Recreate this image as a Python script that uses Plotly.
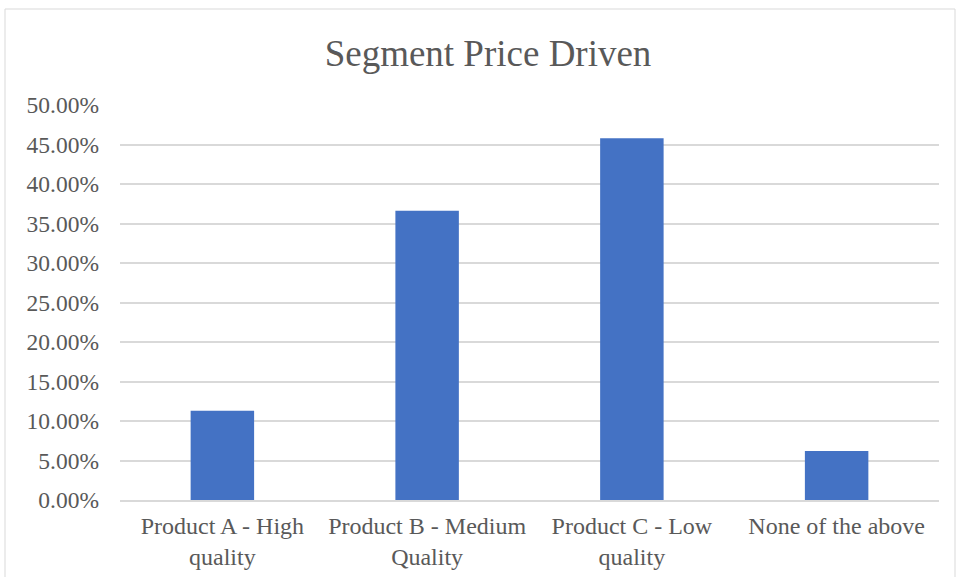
import plotly.graph_objects as go

categories = [
    "Product A - High<br>quality",
    "Product B - Medium<br>Quality",
    "Product C - Low<br>quality",
    "None of the above",
]
shares = [0.113, 0.366, 0.458, 0.062]

y_ticks = [i * 0.05 for i in range(11)]

FONT = "Liberation Serif, Times New Roman, serif"
TEXT = "#595959"

# plot area in pixels: x 120..939, y 105..500
PLOT_W, PLOT_H = 819, 395

fig = go.Figure(
    go.Bar(
        x=categories,
        y=shares,
        marker=dict(color="#4472C4", line=dict(width=0)),
        width=0.31,
        hoverinfo="x+y",
    )
)

fig.update_layout(
    width=957,
    height=577,
    margin=dict(l=120, r=18, t=105, b=77),
    paper_bgcolor="white",
    plot_bgcolor="white",
    showlegend=False,
    title=dict(
        text="Segment Price Driven",
        x=488 / 957,
        xanchor="center",
        y=1 - 53 / 577,
        yanchor="middle",
        font=dict(family=FONT, size=37, color=TEXT),
    ),
    font=dict(family=FONT, color=TEXT),
    shapes=[
        # thin chart-area frame
        dict(
            type="rect",
            xref="paper",
            yref="paper",
            x0=(5 - 120) / PLOT_W,
            x1=(955 - 120) / PLOT_W,
            y0=-0.3,
            y1=(500 - 9) / PLOT_H,
            line=dict(color="#d9d9d9", width=1),
            fillcolor="rgba(0,0,0,0)",
            layer="below",
        )
    ],
)

fig.update_xaxes(
    automargin=False,
    showgrid=False,
    showline=True,
    linecolor="#d9d9d9",
    linewidth=1.5,
    tickfont=dict(family=FONT, size=24, color=TEXT),
    ticks="",
    ticklabelstandoff=3,
)

fig.update_yaxes(
    automargin=False,
    range=[0, 0.5],
    tickvals=y_ticks,
    tickformat=".2%",
    showgrid=True,
    gridcolor="#d9d9d9",
    gridwidth=1.5,
    zeroline=False,
    showline=False,
    tickfont=dict(family=FONT, size=23.5, color=TEXT),
    ticks="",
    ticklabelstandoff=20,
)

fig.write_html("out.html")
